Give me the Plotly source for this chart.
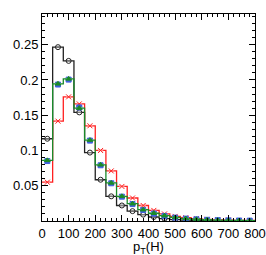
import plotly.graph_objects as go

bin_edges = [0, 40, 80, 120, 160, 200, 240, 280, 320, 360, 400, 440, 480, 520, 560, 600, 640, 680, 720, 760, 800]
black_vals = [0.1166, 0.2465, 0.227, 0.154, 0.097, 0.0585, 0.035, 0.022, 0.014, 0.009, 0.0057, 0.0033, 0.002, 0.0013, 0.0009, 0.0006, 0.0004, 0.0003, 0.0002, 0.0002]
red_vals = [0.055, 0.1416, 0.176, 0.166, 0.135, 0.100, 0.071, 0.049, 0.0326, 0.022, 0.015, 0.010, 0.0065, 0.0047, 0.0033, 0.0024, 0.0017, 0.0012, 0.0009, 0.0007]
green_vals = [0.086, 0.1945, 0.2015, 0.160, 0.1147, 0.0797, 0.054, 0.035, 0.0245, 0.016, 0.011, 0.0075, 0.005, 0.0035, 0.0025, 0.0018, 0.0013, 0.0009, 0.0007, 0.0005]
blue_vals = [0.085, 0.1935, 0.2005, 0.161, 0.1140, 0.0790, 0.0535, 0.0345, 0.024, 0.0155, 0.0105, 0.0072, 0.0048, 0.0034, 0.0024, 0.0017, 0.0012, 0.0009, 0.0007, 0.0005]
x_ticks = [0, 100, 200, 300, 400, 500, 600, 700, 800]
y_ticks = [0.05, 0.1, 0.15, 0.2, 0.25]
y_tick_labels = ["0.05", "0.1", "0.15", "0.2", "0.25"]

centers = [(bin_edges[i] + bin_edges[i + 1]) / 2 for i in range(len(bin_edges) - 1)]

fig = go.Figure()

def add_hist(vals, color, symbol, name, line=True, light=None):
    if line:
        fig.add_trace(go.Scatter(x=bin_edges, y=vals + [vals[-1]], mode="lines",
                                 line=dict(color=color, width=1.3, shape="hv"),
                                 showlegend=False, hoverinfo="skip"))
    fig.add_trace(go.Scatter(x=centers, y=vals, mode="markers",
                             marker=dict(color=color, symbol=symbol, size=5,
                                         line=dict(color=color, width=1)),
                             error_x=dict(type="constant", value=8, color=light or color,
                                          thickness=1, width=1),
                             name=name, showlegend=False))

add_hist(black_vals, "#222222", "circle-open", "black", light="#888888")
add_hist(red_vals, "#ff2020", "x-thin", "red", light="#ff9090")
add_hist(blue_vals, "#4060e0", "square", "blue", line=False, light="#8090f0")
add_hist(green_vals, "#1a8a2a", "triangle-up", "green", light="#70c080")

fig.update_layout(
    width=266, height=255,
    margin=dict(l=42, r=11, t=14, b=34),
    paper_bgcolor="white", plot_bgcolor="white",
    font=dict(family="Liberation Sans, Arial, sans-serif", size=13, color="black"),
    xaxis=dict(range=[0, 800], tickvals=x_ticks, ticks="inside", ticklen=6,
               showgrid=False, zeroline=False, showline=True, linecolor="black",
               linewidth=1, mirror="allticks", tickcolor="black", automargin=False,
               minor=dict(dtick=20, ticks="inside", ticklen=3, tickcolor="black"),
               tickfont=dict(size=13)),
    yaxis=dict(range=[0, 0.2935], tickvals=y_ticks, ticktext=y_tick_labels,
               ticks="inside", ticklen=6, showgrid=False, zeroline=False,
               showline=True, linecolor="black", linewidth=1, mirror="allticks",
               tickcolor="black", automargin=False,
               minor=dict(dtick=0.01, ticks="inside", ticklen=3, tickcolor="black"),
               tickfont=dict(size=13)),
    annotations=[dict(text="p<sub>T</sub>(H)", x=0.5, y=-0.078, xref="paper", yref="paper",
                      xanchor="center", yanchor="top", showarrow=False,
                      font=dict(size=13))],
)

fig.write_html("out.html", config={"displayModeBar": False},
               post_script="document.body.style.margin='0';document.body.style.overflow='hidden';")
